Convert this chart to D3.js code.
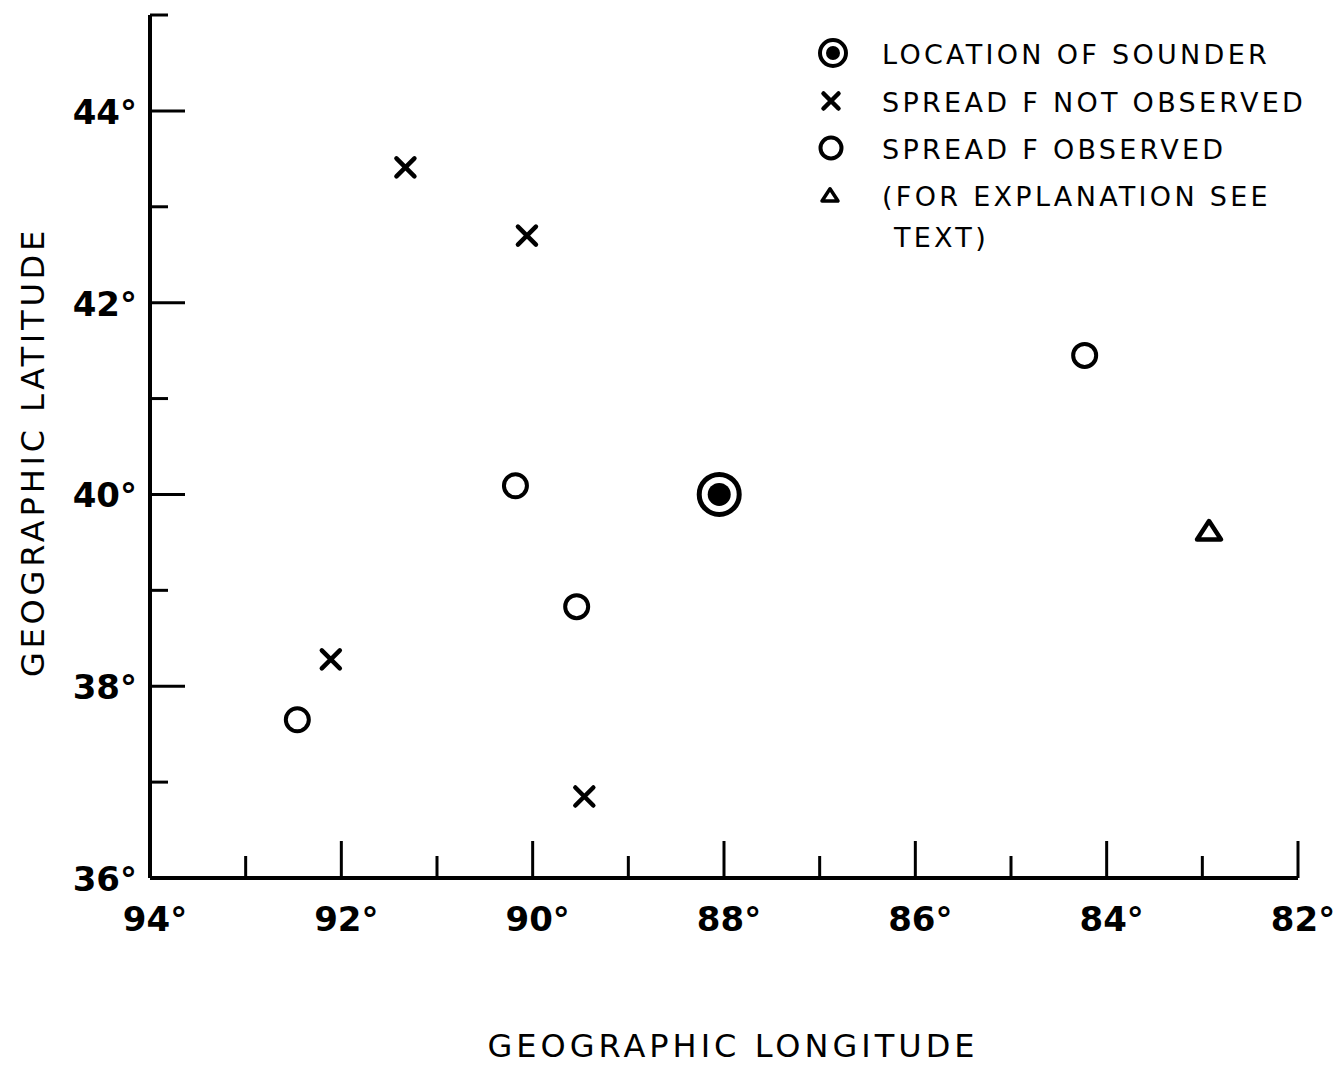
<!DOCTYPE html>
<html><head><meta charset="utf-8">
<script src="https://cdn.jsdelivr.net/npm/d3@7"></script>
<style>body{margin:0;background:#fff}svg{display:block}</style>
</head><body>
<svg id="c" width="1335" height="1065"></svg>
<script>
const xMajorTicks = [94, 92, 90, 88, 86, 84, 82];
const xMinorTicks = [93, 91, 89, 87, 85, 83];
const yMajorTicks = [36, 38, 40, 42, 44];
const yMinorTicks = [37, 39, 41, 43, 45];
const sounder = [{lon: 88.05, lat: 40.0}];
const notObserved = [{lon: 91.33, lat: 43.41}, {lon: 90.06, lat: 42.70}, {lon: 92.11, lat: 38.28}, {lon: 89.46, lat: 36.85}];
const observed = [{lon: 84.23, lat: 41.45}, {lon: 90.18, lat: 40.09}, {lon: 89.54, lat: 38.83}, {lon: 92.46, lat: 37.65}];
const explained = [{lon: 82.93, lat: 39.61}];
const legendLabels = ["LOCATION OF SOUNDER", "SPREAD F NOT OBSERVED", "SPREAD F OBSERVED", "(FOR EXPLANATION SEE", " TEXT)"];

const svg = d3.select("#c");
const x = d3.scaleLinear().domain([94, 82]).range([150, 1298]);
const y = d3.scaleLinear().domain([36, 45]).range([878, 15]);
const ink = "#000";
const tickFont = "'DejaVu Sans', sans-serif";

// axes
const gx = svg.append("g").attr("transform", "translate(0,878)");
gx.append("line").attr("x1", x(94)).attr("x2", x(82)).attr("stroke", ink).attr("stroke-width", 4);
gx.selectAll(".maj").data(xMajorTicks.filter(d => d !== 94)).join("line")
  .attr("x1", d => x(d)).attr("x2", d => x(d)).attr("y1", 0).attr("y2", -37)
  .attr("stroke", ink).attr("stroke-width", 3);
gx.selectAll(".min").data(xMinorTicks).join("line").attr("class", "min")
  .attr("x1", d => x(d)).attr("x2", d => x(d)).attr("y1", 0).attr("y2", -22)
  .attr("stroke", ink).attr("stroke-width", 3);
gx.selectAll(".lab").data(xMajorTicks).join("text").attr("class", "lab")
  .attr("x", d => x(d) + 5).attr("y", 53).attr("text-anchor", "middle")
  .attr("font-family", tickFont).attr("font-weight", "bold").attr("font-size", 34)
  .text(d => d + "°");

const gy = svg.append("g").attr("transform", "translate(150,0)");
gy.append("line").attr("y1", y(36)).attr("y2", y(45)).attr("stroke", ink).attr("stroke-width", 4);
gy.selectAll(".maj").data(yMajorTicks.filter(d => d !== 36)).join("line").attr("class", "maj")
  .attr("y1", d => y(d)).attr("y2", d => y(d)).attr("x1", 0).attr("x2", 35)
  .attr("stroke", ink).attr("stroke-width", 3);
gy.selectAll(".min").data(yMinorTicks).join("line").attr("class", "min")
  .attr("y1", d => y(d)).attr("y2", d => y(d)).attr("x1", 0).attr("x2", 18)
  .attr("stroke", ink).attr("stroke-width", 3);
gy.selectAll(".lab").data(yMajorTicks).join("text").attr("class", "lab")
  .attr("x", -13).attr("y", d => y(d) + 13).attr("text-anchor", "end")
  .attr("font-family", tickFont).attr("font-weight", "bold").attr("font-size", 34)
  .text(d => d + "°");

// axis titles
svg.append("text").attr("x", 733).attr("y", 1057).attr("text-anchor", "middle")
  .attr("font-family", tickFont).attr("font-size", 32).attr("letter-spacing", 4)
  .text("GEOGRAPHIC LONGITUDE");
svg.append("text").attr("transform", "translate(44,452) rotate(-90)").attr("text-anchor", "middle")
  .attr("font-family", tickFont).attr("font-size", 32).attr("letter-spacing", 3.8)
  .text("GEOGRAPHIC LATITUDE");

// marks
const g = svg.append("g");
function cross(sel, cx, cy, s, w) {
  sel.append("path").attr("d", `M${cx - s},${cy - s}L${cx + s},${cy + s}M${cx + s},${cy - s}L${cx - s},${cy + s}`)
    .attr("stroke", ink).attr("stroke-width", w).attr("fill", "none").attr("stroke-linecap", "round");
}
function tri(sel, cx, cy, s, w) {
  const h = s * 0.9;
  sel.append("path").attr("d", `M${cx},${cy - h}L${cx + s},${cy + h * 0.7}L${cx - s},${cy + h * 0.7}Z`)
    .attr("stroke", ink).attr("stroke-width", w).attr("fill", "none").attr("stroke-linejoin", "round");
}
sounder.forEach(d => {
  g.append("circle").attr("cx", x(d.lon)).attr("cy", y(d.lat)).attr("r", 20).attr("fill", "none").attr("stroke", ink).attr("stroke-width", 5);
  g.append("circle").attr("cx", x(d.lon)).attr("cy", y(d.lat)).attr("r", 11.5).attr("fill", ink);
});
notObserved.forEach(d => cross(g, x(d.lon), y(d.lat), 9, 4.5));
observed.forEach(d => g.append("circle").attr("cx", x(d.lon)).attr("cy", y(d.lat)).attr("r", 11.5)
  .attr("fill", "none").attr("stroke", ink).attr("stroke-width", 4));
explained.forEach(d => tri(g, x(d.lon), y(d.lat), 12, 4.5));

// legend
const lg = svg.append("g");
const rowY = [53, 101, 148, 195, 236];
lg.append("circle").attr("cx", 833).attr("cy", rowY[0]).attr("r", 13).attr("fill", "none").attr("stroke", ink).attr("stroke-width", 4);
lg.append("circle").attr("cx", 833).attr("cy", rowY[0]).attr("r", 7).attr("fill", ink);
cross(lg, 831, rowY[1], 7.5, 4.5);
lg.append("circle").attr("cx", 831).attr("cy", rowY[2]).attr("r", 10.5).attr("fill", "none").attr("stroke", ink).attr("stroke-width", 4);
tri(lg, 830, rowY[3] + 1, 8, 3.5);
lg.selectAll("text").data(legendLabels).join("text")
  .attr("x", 882).attr("y", (d, i) => rowY[i] + 11)
  .attr("font-family", tickFont).attr("font-size", 27).attr("letter-spacing", 3.3)
  .attr("xml:space", "preserve").style("white-space", "pre")
  .text(d => d);
</script>
</body></html>
